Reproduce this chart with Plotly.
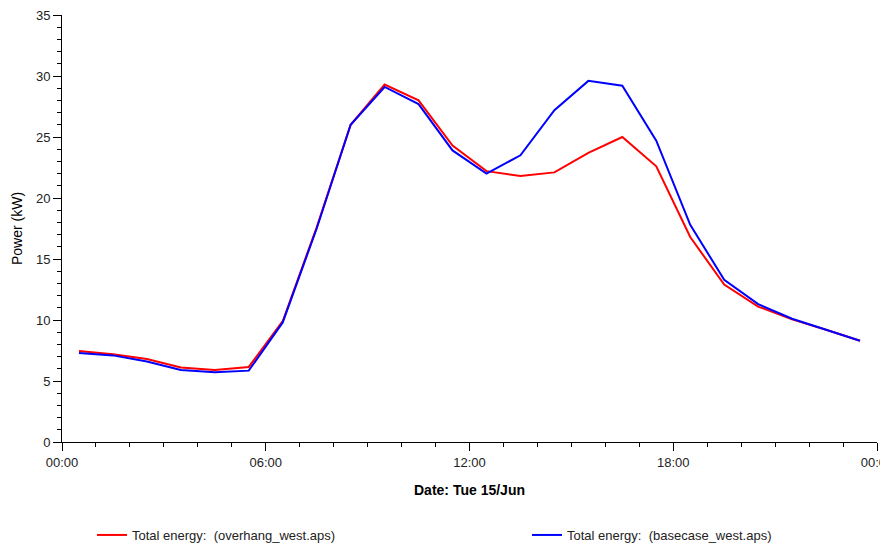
import plotly.graph_objects as go

hours = [0.5, 1.5, 2.5, 3.5, 4.5, 5.5, 6.5, 7.5, 8.5, 9.5, 10.5, 11.5,
         12.5, 13.5, 14.5, 15.5, 16.5, 17.5, 18.5, 19.5, 20.5, 21.5, 22.5, 23.5]
overhang_west = [7.45, 7.2, 6.8, 6.1, 5.9, 6.15, 9.9, 17.6, 26.0, 29.3, 28.0, 24.3,
                 22.2, 21.8, 22.1, 23.7, 25.0, 22.6, 16.8, 12.9, 11.1, 10.05, 9.2, 8.3]
basecase_west = [7.3, 7.1, 6.6, 5.9, 5.72, 5.85, 9.8, 17.5, 26.0, 29.1, 27.7, 23.9,
                 22.0, 23.5, 27.2, 29.6, 29.2, 24.7, 17.8, 13.3, 11.3, 10.1, 9.2, 8.3]
tick_vals = [0, 6, 12, 18, 24]
tick_text = ["00:00", "06:00", "12:00", "18:00", "00:00"]

font = "Liberation Sans, Arial, sans-serif"
W, H = 880, 539  # page body has an 8px margin

fig = go.Figure()
fig.add_trace(go.Scatter(x=hours, y=overhang_west, mode="lines",
                         line=dict(color="#ff0000", width=2),
                         name="Total energy:  (overhang_west.aps)", legend="legend"))
fig.add_trace(go.Scatter(x=hours, y=basecase_west, mode="lines",
                         line=dict(color="#0000ff", width=2),
                         name="Total energy:  (basecase_west.aps)", legend="legend2"))

leg_common = dict(orientation="h", xref="container", yref="container",
                  y=1-512/H, xanchor="left", yanchor="top",
                  font=dict(size=13, color="#222222"), itemwidth=30,
                  bgcolor="rgba(0,0,0,0)")

fig.update_layout(
    width=W, height=H,
    margin=dict(l=54, r=11, t=7, b=105, autoexpand=False),
    paper_bgcolor="white", plot_bgcolor="white",
    font=dict(family=font, size=13, color="#222222"),
    showlegend=True,
    legend=dict(x=84/W, **leg_common),
    legend2=dict(x=519/W, **leg_common),
)
fig.update_xaxes(
    range=[0, 24], showgrid=False, zeroline=False, automargin=False,
    showline=True, linecolor="black", linewidth=1,
    tickmode="array", tickvals=tick_vals, ticktext=tick_text,
    ticklabeloverflow="allow", ticklabelstandoff=0,
    ticks="outside", ticklen=8, tickcolor="black", tickwidth=1,
    minor=dict(dtick=1, ticks="outside", ticklen=4, tickcolor="black", showgrid=False),
    title=dict(text="<b>Date: Tue 15/Jun</b>", font=dict(size=14, color="black"), standoff=16),
)
fig.update_yaxes(
    range=[0, 35], showgrid=False, zeroline=False, automargin=False,
    showline=True, linecolor="black", linewidth=1,
    ticklabeloverflow="allow",
    dtick=5, ticks="outside", ticklen=8, tickcolor="black", tickwidth=1,
    minor=dict(dtick=1, ticks="outside", ticklen=4, tickcolor="black", showgrid=False),
    title=dict(text="Power (kW)", font=dict(size=14, color="black"), standoff=10),
)

fig.write_html("out.html")
